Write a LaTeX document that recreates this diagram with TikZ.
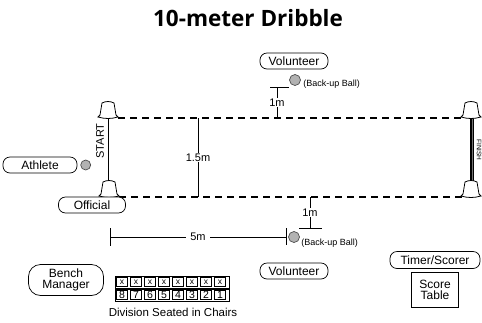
\documentclass[tikz,border=0pt]{standalone}
\usepackage{fontspec}
\setmainfont{Liberation Sans}
\newfontfamily\titlefont{Open Sans}
\usetikzlibrary{positioning}

\tikzset{
  cone/.pic={
    \draw[fill=white,line width=0.8pt] (-6,-7) .. controls (-2,-9) and (2,-9) .. (6,-7)
      -- (8,5) -- (10,7) .. controls (3,9) and (-3,9) .. (-10,7) -- (-8,5) -- cycle;
  }
}

\begin{document}
\begin{tikzpicture}[x=1pt,y=-1pt,line width=0.7pt,
    role/.style={draw,fill=white,rounded corners=7pt,minimum height=16pt,inner sep=1pt,font=\fontsize{12}{13}\selectfont},
    ball/.style={circle,draw=black!70,fill=black!30,minimum size=11pt,inner sep=0pt},
    note/.style={font=\fontsize{9}{10}\selectfont,inner sep=0pt},
    dim/.style={font=\fontsize{11}{12}\selectfont,fill=white,inner sep=1pt},
    lane/.style={line width=1.2pt,dash pattern=on 7pt off 5pt},
    chair/.style={draw,minimum width=11pt,minimum height=9pt,inner sep=0pt}]

    \useasboundingbox (0,0) rectangle (482,322);

    \node[font=\titlefont\bfseries\fontsize{22.5}{24}\selectfont] (title) at (248,18) {10-meter Dribble};

    % lane
    \coordinate (tl) at (118,118);
    \coordinate (tr) at (462,118);
    \coordinate (bl) at (119,197);
    \coordinate (br) at (462,197);
    \draw[lane] (tl) -- (tr);
    \draw[lane] (bl) -- (br);

    \coordinate (s1) at (108,118);
    \coordinate (s2) at (108,182);
    \draw (s1) -- (s2);
    \coordinate (f1) at (472,118);
    \coordinate (f2) at (472,182);
    \draw[line width=1.4pt,double=black!55,double distance=1pt] (f1) -- (f2);

    \pic at (108,110) {cone};
    \pic at (109,189) {cone};
    \pic at (471,110) {cone};
    \pic at (471,189) {cone};

    \node[rotate=90,font=\fontsize{11}{12}\selectfont] (start) at (100,141) {START};
    \node[rotate=-90,font=\fontsize{6.5}{7}\selectfont,inner sep=0pt] (finish) at (479,150) {FINISH};

    % width
    \coordinate (w1) at (198,118);
    \coordinate (w2) at (198,197);
    \draw (w1) -- node[dim] {1.5m} (w2);

    % top volunteer
    \node[role,minimum width=68pt] (vol1) at (294,61) {Volunteer};
    \node[ball] (ball1) at (295,80) {};
    \node[note,anchor=west] (bb1) at (303,84) {(Back-up Ball)};
    \coordinate (m1) at (270,87);
    \coordinate (m2) at (289,87);
    \draw (m1) -- (m2);
    \coordinate (d1) at (277,87);
    \coordinate (d2) at (277,118);
    \draw (d1) -- node[dim] {1m} (d2);

    % bottom volunteer
    \coordinate (d3) at (310,197);
    \coordinate (d4) at (310,228);
    \draw (d3) -- node[dim] {1m} (d4);
    \coordinate (m3) at (299,228);
    \coordinate (m4) at (322,228);
    \draw (m3) -- (m4);
    \node[ball] (ball2) at (294,237) {};
    \node[note,anchor=west] (bb2) at (301,243) {(Back-up Ball)};
    \node[role,minimum width=68pt] (vol2) at (294,271) {Volunteer};

    % 5m
    \coordinate (e1) at (110,237);
    \coordinate (e2) at (286,237);
    \draw (110,228) -- (110,246);
    \draw (286,228) -- (286,245);
    \draw (e1) -- node[dim,inner xsep=4pt] {5m} (e2);

    % people
    \node[role,minimum width=74pt] (athlete) at (40,165) {Athlete};
    \node[ball,minimum size=10pt] (ball0) [right=3pt of athlete] {};
    \node[role,minimum width=67pt] (official) at (92,205) {Official};
    \node[role,minimum width=75pt,minimum height=31pt,rounded corners=12pt,align=center] (bench) at (66,280) {Bench\\[-2pt]Manager};
    \node[role,minimum width=90pt,minimum height=17pt] (timer) at (435,260) {Timer/Scorer};
    \node[draw,line width=1.1pt,minimum width=47pt,minimum height=35pt,align=center,inner sep=1pt,font=\fontsize{12}{13}\selectfont] (table) [below=3pt of timer] {Score\\[-2pt]Table};

    % chairs
    \draw (115,276) rectangle (229,288);
    \draw (115,289) rectangle (229,301);
    \foreach \i in {1,...,8} {
      \node[chair,font=\fontsize{8.5}{9}\selectfont] (x\i) at (108+14*\i,282) {x};
      \pgfmathtruncatemacro{\n}{9-\i}
      \node[chair,font=\fontsize{10.5}{11}\selectfont] (c\i) at (108+14*\i,295) {\n};
    }
    \node[font=\fontsize{11.5}{12}\selectfont] (division) at (173,312) {Division Seated in Chairs};
\end{tikzpicture}
\end{document}
